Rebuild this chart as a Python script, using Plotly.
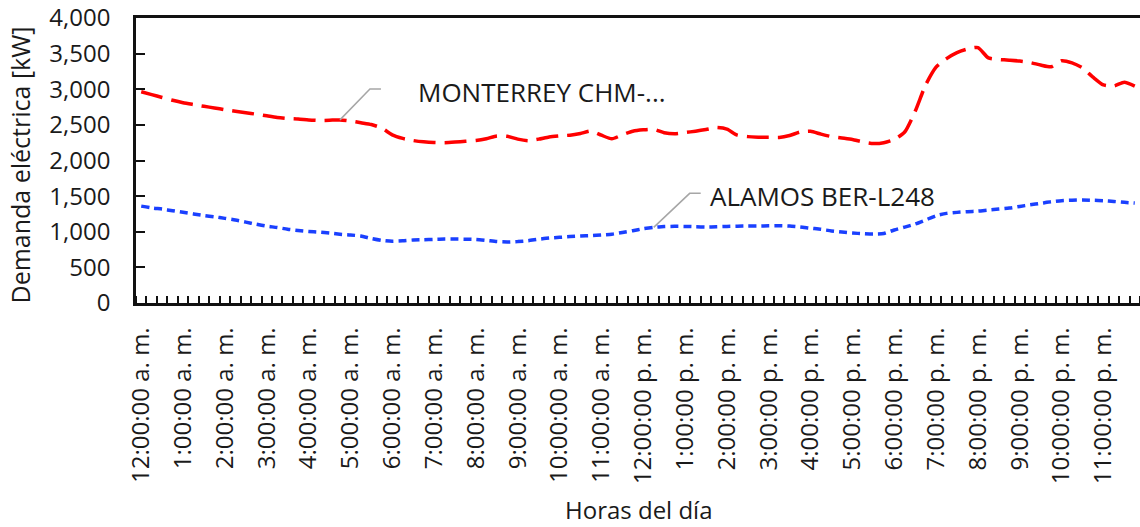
import plotly.graph_objects as go

# 15-minute intervals over one day (96 readings)
hour_labels = [
    "12:00:00 a. m.", "1:00:00 a. m.", "2:00:00 a. m.", "3:00:00 a. m.",
    "4:00:00 a. m.", "5:00:00 a. m.", "6:00:00 a. m.", "7:00:00 a. m.",
    "8:00:00 a. m.", "9:00:00 a. m.", "10:00:00 a. m.", "11:00:00 a. m.",
    "12:00:00 p. m.", "1:00:00 p. m.", "2:00:00 p. m.", "3:00:00 p. m.",
    "4:00:00 p. m.", "5:00:00 p. m.", "6:00:00 p. m.", "7:00:00 p. m.",
    "8:00:00 p. m.", "9:00:00 p. m.", "10:00:00 p. m.", "11:00:00 p. m.",
]

monterrey_kw = [
    2965, 2925, 2885, 2845, 2811, 2785, 2760, 2738, 2713, 2690, 2670, 2650,
    2627, 2605, 2590, 2583, 2570, 2562, 2565, 2570, 2555, 2530, 2505, 2455,
    2360, 2310, 2280, 2262, 2252, 2250, 2258, 2270, 2280, 2305, 2345, 2340,
    2300, 2278, 2300, 2330, 2346, 2356, 2380, 2414, 2355, 2305, 2360, 2410,
    2430, 2438, 2390, 2375, 2392, 2412, 2435, 2462, 2440, 2355, 2335, 2328,
    2325, 2322, 2350, 2400, 2410, 2370, 2335, 2315, 2295, 2260, 2238, 2250,
    2295, 2400, 2690, 3060, 3310, 3430, 3515, 3565, 3585, 3440, 3418, 3408,
    3396, 3375, 3340, 3315, 3400, 3370, 3300, 3170, 3060, 3045, 3100, 3045,
]

alamos_kw = [
    1360, 1335, 1318, 1295, 1273, 1250, 1228, 1210, 1188, 1165, 1135, 1105,
    1078, 1060, 1035, 1018, 1005, 995, 982, 965, 955, 940, 905, 878,
    866, 872, 884, 888, 893, 897, 898, 896, 892, 878, 862, 856,
    862, 875, 895, 912, 922, 932, 940, 945, 955, 966, 990, 1015,
    1043, 1062, 1072, 1076, 1075, 1070, 1067, 1070, 1075, 1078, 1080, 1081,
    1083, 1085, 1080, 1068, 1050, 1034, 1012, 996, 982, 973, 968, 975,
    1025, 1065, 1108, 1165, 1225, 1258, 1272, 1282, 1290, 1305, 1318, 1332,
    1355, 1378, 1398, 1420, 1436, 1442, 1446, 1442, 1436, 1425, 1413, 1402,
]

series_names = ["MONTERREY CHM-...", "ALAMOS BER-L248"]
y_ticks = [0, 500, 1000, 1500, 2000, 2500, 3000, 3500, 4000]

FONT = "Open Sans"
TEXT_COLOR = "#1a1a1a"
steps = list(range(len(monterrey_kw)))
label_positions = steps[::4]

fig = go.Figure()
fig.add_trace(go.Scatter(
    x=steps, y=monterrey_kw, mode="lines", name=series_names[0],
    line=dict(color="#FF0000", width=3.5, dash="22px,9px", shape="spline", smoothing=0.6),
))
fig.add_trace(go.Scatter(
    x=steps, y=alamos_kw, mode="lines", name=series_names[1],
    line=dict(color="#1A40FF", width=3.5, dash="8px,5px", shape="spline", smoothing=0.6),
))

# Data labels with leader lines
callouts = [
    (19, monterrey_kw, series_names[0], "M0,0 L30,31 L41,31", 76, 28),
    (49, alamos_kw, series_names[1], "M0,0 L36,34 L47,34", 54, 31),
]
shapes = []
annotations = []
for idx, values, text, path, dx, dy in callouts:
    shapes.append(dict(
        type="path", xref="x", yref="y", xsizemode="pixel", ysizemode="pixel",
        xanchor=idx, yanchor=values[idx], path=path,
        line=dict(color="#A6A6A6", width=1.5),
    ))
    annotations.append(dict(
        x=idx, y=values[idx], xref="x", yref="y", text=text, showarrow=False,
        xanchor="left", yanchor="middle", xshift=dx, yshift=dy,
        font=dict(family=FONT, size=26, color=TEXT_COLOR),
    ))

# Axis titles
annotations.append(dict(
    x=0, y=0.5, xref="paper", yref="paper", text="Demanda eléctrica [kW]",
    textangle=-90, showarrow=False, xanchor="center", yanchor="middle",
    xshift=-117, yshift=-5,
    font=dict(family=FONT, size=25, color=TEXT_COLOR),
))
annotations.append(dict(
    x=0.5, y=0, xref="paper", yref="paper", text="Horas del día",
    showarrow=False, xanchor="center", yanchor="middle", yshift=-206,
    font=dict(family=FONT, size=24, color=TEXT_COLOR),
))

fig.update_layout(
    width=1140, height=527,
    margin=dict(l=136, r=0, t=18, b=224),
    paper_bgcolor="white", plot_bgcolor="white",
    showlegend=False,
    shapes=shapes,
    annotations=annotations,
    font=dict(family=FONT, color=TEXT_COLOR),
)

fig.update_xaxes(
    range=[-0.5, len(steps) - 0.5],
    tickmode="array", tickvals=label_positions, ticktext=hour_labels,
    tickangle=-90, ticks="", ticklabelstandoff=12,
    tickfont=dict(family=FONT, size=24, color=TEXT_COLOR),
    showgrid=False, zeroline=False,
    showline=True, linecolor="#111111", linewidth=2.5, mirror=True,
    minor=dict(tickmode="linear", tick0=-0.5, dtick=1, ticks="inside",
               ticklen=7, tickwidth=1.5, tickcolor="#111111", showgrid=False),
)
fig.update_yaxes(
    range=[0, 4000],
    tickmode="array", tickvals=y_ticks, tickformat=",d",
    ticks="inside", ticklen=9, tickwidth=1.5, tickcolor="#111111",
    ticklabelstandoff=18,
    tickfont=dict(family=FONT, size=24, color=TEXT_COLOR),
    showgrid=False, zeroline=False,
    showline=True, linecolor="#111111", linewidth=2.5,
)

fig.write_html("out.html")
